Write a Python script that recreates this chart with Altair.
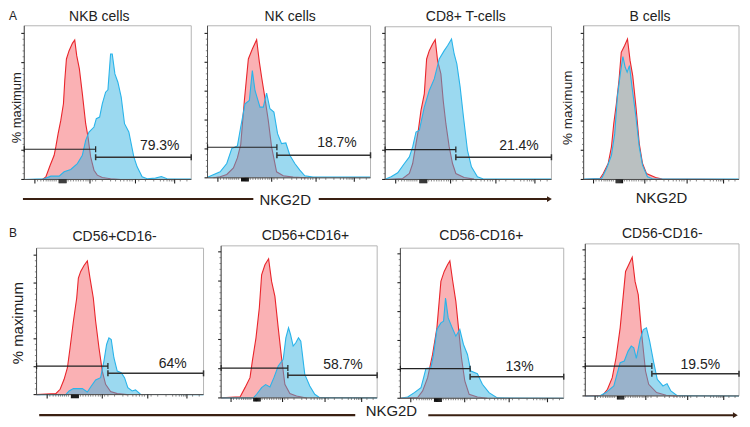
import altair as alt
import pandas as pd

FONT = "Liberation Sans"
INK = "#222222"
BROWN = "#3A2012"
RED, REDFILL = "#E9252B", "#F5565C"
BLUE = "#37B4E1"
CELL_W, CELL_H, ORIGIN = 183, 205, 8
RIGHT_LIMIT = 741

# ---- curves: channel (x), event count (y), one list pair per panel ----
a1_rx = [125,135,148,160,165,172,180,188,192,197,205,215,222,228,236,245,255,262,270,280,290,305,330,360]
a1_ry = [0,8,43,73,98,138,178,228,298,363,388,410,420,373,333,258,168,128,68,28,13,6,2,0]
a1_bx = [70,130,150,175,190,210,230,245,255,265,280,287,297,305,315,322,330,335,343,352,362,372,385,400,410,425,440,465,483,500,573]
a1_by = [0,2,10,10,23,30,48,73,118,143,158,183,188,228,263,270,378,378,318,293,248,168,143,68,38,8,2,4,9,2,1]

a2_rx = [640,660,680,700,712,722,733,745,757,770,778,785,793,805,815,830,850,880,920]
a2_ry = [0,3,10,30,60,100,233,358,388,416,350,303,253,173,93,18,6,2,0]
a2_bx = [622,660,680,695,712,722,735,748,757,765,780,790,800,810,822,833,845,858,870,885,900,915,940,1113]
a2_by = [2,18,43,88,96,153,223,233,323,263,213,213,255,208,198,133,103,105,68,43,23,6,2,2]

a3_rx = [32,85,105,115,125,132,140,150,157,165,175,183,190,200,207,215,225,235,245,270,300]
a3_ry = [0,3,18,48,108,148,208,258,363,388,408,421,358,318,238,168,98,48,18,6,1]
a3_bx = [32,50,70,90,105,115,125,135,150,165,180,195,210,220,232,240,248,258,268,280,292,310,330,533]
a3_by = [1,8,20,48,68,98,143,148,218,268,303,363,388,403,423,378,348,278,188,88,38,8,1,1]

a4_rx = [630,680,690,705,715,722,730,738,745,755,764,772,780,790,800,810,822,850,870,1105]
a4_ry = [0,3,18,48,98,168,228,298,383,403,423,358,313,218,108,48,18,6,1,0]
a4_bx = [630,685,700,715,725,733,742,750,757,763,770,778,790,800,810,825,840,1105]
a4_by = [1,3,33,73,138,248,318,370,338,323,343,278,188,98,43,8,2,1]

b1_rx = [107,165,178,190,200,208,218,228,233,240,250,260,268,278,285,295,305,315,330,350,380]
b1_ry = [0,3,16,46,81,141,221,291,351,371,389,403,351,291,221,141,71,31,9,3,0]
b1_bx = [107,195,205,218,245,260,272,285,300,310,318,325,332,340,350,362,372,382,395,405,420,610]
b1_by = [0,0,11,18,18,8,26,44,51,101,151,171,166,111,71,66,51,21,11,14,1,0]

b2_rx = [663,720,735,750,757,768,778,785,795,806,815,825,835,845,855,870,890,920]
b2_ry = [0,3,31,61,111,181,271,371,401,419,351,306,211,121,41,13,6,0]
b2_bx = [663,760,770,785,797,810,822,835,850,858,866,872,880,888,896,903,915,930,945,960,1133]
b2_by = [0,0,11,31,40,33,61,96,116,181,211,191,156,166,181,171,71,36,11,1,0]

b3_rx = [78,130,145,160,175,188,200,210,220,227,235,245,253,262,272,285,310,340]
b3_ry = [0,2,22,62,132,212,352,382,402,414,357,292,212,122,52,12,4,0]
b3_bx = [78,100,120,140,148,155,170,178,188,200,208,214,222,232,245,257,268,280,290,310,325,345,370,570]
b3_by = [0,4,17,32,62,90,92,132,207,227,232,302,242,217,187,207,162,132,82,74,42,17,1,0]

b4_rx = [635,690,705,720,732,745,755,762,772,783,792,802,812,825,835,860,890,925]
b4_ry = [0,2,20,55,115,205,305,375,395,418,345,305,195,75,35,10,2,0]
b4_bx = [635,680,700,725,745,758,770,780,788,796,808,818,828,838,850,862,880,893,905,925,1120]
b4_by = [0,0,10,30,100,105,135,150,145,113,170,200,205,165,105,50,30,37,15,1,0]

titles = ["NKB cells","NK cells","CD8+ T-cells","B cells","CD56+CD16-","CD56+CD16+","CD56-CD16+","CD56-CD16-"]
percents = ["79.3%","18.7%","21.4%",None,"64%","58.7%","13%","19.5%"]

# axis ticks (channel offsets shared by every panel, in the first panel's channel span)
x_major = [32,198,335,453]
x_dense = [105,108,111,114,117,120,123,126]
x_minor = [40,50,58,66,72,78,84,90,96,132,140,148,156,163,170,178,186,192,205,215,235,260,275,290,300,310,318,325,345,365,390,410,420,430,437,443,448,470,490]

panels = [
 dict(rx=a1_rx,ry=a1_ry,bx=a1_bx,by=a1_by,L=70,R=573,top=75,base=538,ox=0,oy=0,col=0,row=0,step=88,
      gate=(91,67,285),pt=(478,101),tt=(296,489),alpha=.5,blue=BLUE),
 dict(rx=a2_rx,ry=a2_ry,bx=a2_bx,by=a2_by,L=622,R=1113,top=75,base=533,ox=0,oy=0,col=1,row=0,step=87,
      gate=(92,68,831),pt=(1012,105),tt=(871,484),alpha=.5,blue=BLUE),
 dict(rx=a3_rx,ry=a3_ry,bx=a3_bx,by=a3_by,L=32,R=533,top=78,base=538,ox=375,oy=0,col=2,row=0,step=88,
      gate=(90,67,245),pt=(435,101),tt=(275,489),alpha=.5,blue=BLUE),
 dict(rx=a4_rx,ry=a4_ry,bx=a4_bx,by=a4_by,L=630,R=1105,top=75,base=538,ox=375,oy=0,col=3,row=0,step=88,
      gate=None,pt=None,tt=(833,489),alpha=.30,blue="#28E6E1"),
 dict(rx=b1_rx,ry=b1_ry,bx=b1_bx,by=b1_by,L=107,R=610,top=100,base=541,ox=0,oy=215,col=0,row=1,step=84,
      gate=(86,64,322),pt=(517,91),tt=(342,476),alpha=.5,blue=BLUE),
 dict(rx=b2_rx,ry=b2_ry,bx=b2_bx,by=b2_by,L=663,R=1133,top=93,base=551,ox=0,oy=215,col=1,row=1,step=88,
      gate=(90,68,864),pt=(1030,100),tt=(917,488),alpha=.5,blue=BLUE),
 dict(rx=b3_rx,ry=b3_ry,bx=b3_bx,by=b3_by,L=78,R=570,top=100,base=552,ox=375,oy=215,col=2,row=1,step=87,
      gate=(89,65,288),pt=(437,95),tt=(322,489),alpha=.5,blue=BLUE),
 dict(rx=b4_rx,ry=b4_ry,bx=b4_bx,by=b4_by,L=635,R=1120,top=87,base=545,ox=375,oy=215,col=3,row=1,step=88,
      gate=(90,67,845),pt=(998,93),tt=(878,488),alpha=.5,blue=BLUE),
]


def build(p, title, pct, extras):
    cx = ORIGIN + p["col"] * CELL_W
    cy = ORIGIN + p["row"] * CELL_H
    L, R, base, top = p["L"], p["R"], p["base"], p["top"]
    right_px = min(p["ox"] + R / 3, RIGHT_LIMIT)
    xs = alt.Scale(domain=[L, R], range=[p["ox"] + L / 3 - cx, right_px - cx])
    ys = alt.Scale(domain=[0, base - top],
                   range=[p["oy"] + base / 3 - cy, p["oy"] + top / 3 - cy])
    X = alt.X("x:Q", scale=xs, axis=None, title=None)
    Y = alt.Y("y:Q", scale=ys, axis=None, title=None)
    X2 = alt.X2("x2:Q")
    Y2 = alt.Y2("y2:Q")

    red = pd.DataFrame({"x": p["rx"], "y": p["ry"]})
    blue = pd.DataFrame({"x": p["bx"], "y": p["by"]})

    def rules(rows, color, width):
        df = pd.DataFrame(rows, columns=["x", "x2", "y", "y2"])
        return alt.Chart(df).mark_rule(color=color, strokeWidth=width).encode(x=X, x2=X2, y=Y, y2=Y2)

    layers = [
        alt.Chart(red).mark_area(color=REDFILL, opacity=.46, strokeWidth=0).encode(x=X, y=Y),
        alt.Chart(red).mark_line(color=RED, strokeWidth=1.1).encode(x=X, y=Y),
        alt.Chart(blue).mark_area(color=p["blue"], opacity=p["alpha"], strokeWidth=0).encode(x=X, y=Y),
        alt.Chart(blue).mark_line(color="#29B4EA", strokeWidth=1.1).encode(x=X, y=Y),
    ]
    # frame
    frame = pd.DataFrame({"x": [L], "x2": [R], "y": [0], "y2": [base - top]})
    layers.append(alt.Chart(frame).mark_rect(fill=None, stroke="#B4B4B4", strokeWidth=1).encode(x=X, x2=X2, y=Y, y2=Y2))
    layers.append(rules([(L, R, 0, 0), (L, L, 0, base - top)], "#333333", .8))

    # y ticks
    step = p["step"]
    ymaj = [(L - 9, L, step * i, step * i) for i in range(6)]
    ymin = [(L - 5, L, step * i / 5, step * i / 5) for i in range(26) if i % 5 and step * i / 5 < base - top]
    layers += [rules(ymaj, "#222222", 1.1), rules(ymin, "#555555", .7)]

    # x ticks
    k = (R - L) / 503
    layers += [
        rules([(L + v * k, L + v * k, -12, 0) for v in x_major], "#222222", 1.1),
        rules([(L + v * k, L + v * k, -11, 0) for v in x_dense], "#111111", 1.1),
        rules([(L + v * k, L + v * k, -6, 0) for v in x_minor], "#555555", .7),
    ]

    # gates
    if p["gate"]:
        gl, gr, gx = p["gate"]
        layers += [
            rules([(L, gx, gl, gl), (L, L, gl - 9, gl + 9), (gx, gx, gl - 9, gl + 9)], "#222222", 1.2),
            rules([(gx, R, gr, gr), (gx, gx, gr - 9, gr + 9), (R, R, gr - 9, gr + 9)], "#333333", 1.5),
        ]

    def text(rows, size, **kw):
        df = pd.DataFrame(rows, columns=["x", "y", "t"])
        return alt.Chart(df).mark_text(font=FONT, fontSize=size, color=INK, baseline="middle", **kw).encode(x=X, y=Y, text="t:N")

    layers.append(text([(p["tt"][0], p["tt"][1], title)], 14))
    if pct:
        layers.append(text([(p["pt"][0], p["pt"][1], pct)], 14))

    for e in extras:
        kind = e[0]
        if kind == "ylab":
            layers.append(text([(e[1], e[2], "% maximum")], e[3], angle=270))
        elif kind == "label":
            layers.append(text([(e[1], e[2], e[3])], e[4], **e[5]))
        elif kind == "arrow":
            layers.append(rules([(e[1], e[2], e[3], e[3])], BROWN, e[4]))
        elif kind == "head":
            df = pd.DataFrame({"x": [e[1]], "y": [e[2]]})
            layers.append(alt.Chart(df).mark_point(shape="triangle-right", filled=True, color=BROWN, opacity=1, size=32).encode(x=X, y=Y))

    return alt.layer(*layers).properties(width=CELL_W, height=CELL_H)


extras = {
    0: [("ylab", 48, 216, 13), ("label", 24, 491, "A", 12, dict(align="left")),
        ("arrow", 66, 760, -59, 2), ("arrow", 957, 1650, -59, 2), ("head", 1652, -59),
        ("label", 856, -62, "NKG2D", 15, {})],
    3: [("ylab", 582, 216, 13.6), ("label", 868, -57, "NKG2D", 15, {})],
    4: [("ylab", 52, 215, 15), ("label", 24, 487, "B", 12, dict(align="left")),
        ("arrow", 115, 1067, -62, 2.4), ("arrow", 1287, 2210, -62, 2), ("head", 2212, -62),
        ("label", 1176, -50, "NKG2D", 15, {})],
}

charts = [build(p, titles[i], percents[i], extras.get(i, [])) for i, p in enumerate(panels)]

chart = alt.concat(*charts, columns=4, spacing=0, bounds="flush",
                   padding={"left": 0, "top": 0, "right": 0, "bottom": -1}).configure_view(stroke=None)
chart.save("out.html", embed_options={"renderer": "svg", "actions": False})
